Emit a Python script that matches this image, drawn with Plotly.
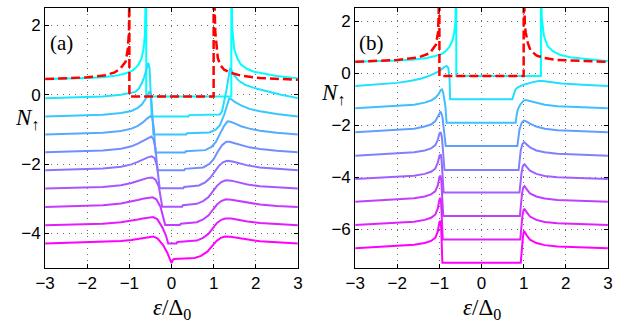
import plotly.graph_objects as go

# ---------------- panel (a) data ----------------
a_offsets = [0.45, -0.10, -0.63, -1.15, -1.66, -2.18, -2.71, -3.24, -3.77, -4.29]

a_x = [
    [-3, -2.5, -2, -1.63, -1.3, -1.1, -0.95, -0.86, -0.78, -0.71, -0.66, -0.63, -0.61, -0.6, -0.6,
     1.42, 1.42, 1.44, 1.49, 1.57, 1.65, 1.8, 1.96, 2.2, 2.5, 3],
    [-3, -2.3, -1.63, -1.2, -0.95, -0.86, -0.78, -0.71, -0.65, -0.59, -0.55, -0.52, -0.49, -0.47,
     0.4, 0.42, 1.15, 1.2, 1.3, 1.37, 1.39, 1.43, 1.5, 1.6, 1.75, 2.03, 2.3, 2.6, 3],
    [-3, -2.3, -1.63, -1.2, -0.95, -0.8, -0.7, -0.62, -0.56, -0.52, -0.49, -0.46, -0.43,
     0.35, 0.37, 0.9, 1.05, 1.15, 1.25, 1.32, 1.37, 1.42, 1.5, 1.65, 1.85, 2.1, 2.5, 3],
    [-3, -2.3, -1.63, -1.2, -0.95, -0.8, -0.68, -0.58, -0.5, -0.46, -0.42, -0.38,
     0.32, 0.34, 0.8, 0.95, 1.05, 1.15, 1.25, 1.33, 1.4, 1.5, 1.65, 1.85, 2.1, 2.5, 3],
    [-3, -2.3, -1.63, -1.2, -0.95, -0.8, -0.68, -0.57, -0.48, -0.43, -0.38, -0.33,
     0.3, 0.32, 0.75, 0.9, 1.0, 1.1, 1.2, 1.3, 1.38, 1.5, 1.65, 1.85, 2.1, 2.5, 3],
    [-3, -2.3, -1.63, -1.2, -0.95, -0.8, -0.68, -0.56, -0.47, -0.4, -0.34, -0.28,
     0.28, 0.3, 0.65, 0.8, 0.92, 1.02, 1.12, 1.22, 1.32, 1.45, 1.6, 1.8, 2.1, 2.5, 3],
    [-3, -2.3, -1.63, -1.2, -0.95, -0.8, -0.68, -0.56, -0.46, -0.38, -0.3, -0.22,
     0.25, 0.27, 0.6, 0.75, 0.88, 0.98, 1.08, 1.18, 1.29, 1.42, 1.6, 1.8, 2.1, 2.5, 3],
    [-3, -2.3, -1.63, -1.2, -0.95, -0.8, -0.68, -0.56, -0.45, -0.36, -0.26, -0.15,
     0.2, 0.22, 0.6, 0.75, 0.88, 0.98, 1.08, 1.18, 1.29, 1.42, 1.6, 1.8, 2.1, 2.5, 3],
    [-3, -2.3, -1.63, -1.2, -0.95, -0.8, -0.68, -0.56, -0.44, -0.34, -0.22, -0.13, -0.08,
     0.12, 0.14, 0.6, 0.75, 0.88, 0.98, 1.08, 1.18, 1.28, 1.42, 1.6, 1.8, 2.1, 2.5, 3],
    [-3, -2.3, -1.63, -1.2, -0.95, -0.8, -0.68, -0.55, -0.43, -0.33, -0.2, -0.1, -0.03, 0.0,
     0.03, 0.06, 0.55, 0.7, 0.85, 0.97, 1.07, 1.17, 1.27, 1.4, 1.6, 1.8, 2.1, 2.5, 3],
]

a_rel = [
    [0, 0.01, 0.03, 0.05, 0.1, 0.16, 0.23, 0.31, 0.42, 0.6, 0.9, 1.32, 2.0, 3.5, -0.5,
     -0.5, 3.5, 1.5, 0.85, 0.58, 0.42, 0.29, 0.21, 0.15, 0.09, 0.02],
    [0, 0.02, 0.05, 0.1, 0.15, 0.18, 0.27, 0.42, 0.6, 0.85, 1.02, 0.85, 0.09, -0.53,
     -0.53, -0.49, -0.47, -0.38, 0.2, 0.8, 0.87, 0.78, 0.64, 0.5, 0.38, 0.27, 0.18, 0.1, 0.0],
    [0, 0.02, 0.05, 0.1, 0.16, 0.25, 0.35, 0.5, 0.65, 0.72, 0.65, 0.2, -0.52,
     -0.52, -0.48, -0.46, -0.38, -0.25, 0.05, 0.35, 0.52, 0.5, 0.42, 0.32, 0.22, 0.15, 0.07, 0.0],
    [0, 0.02, 0.05, 0.1, 0.17, 0.25, 0.35, 0.46, 0.53, 0.5, 0.2, -0.52,
     -0.52, -0.48, -0.45, -0.36, -0.22, 0.02, 0.25, 0.38, 0.37, 0.32, 0.24, 0.17, 0.11, 0.05, 0.0],
    [0, 0.02, 0.05, 0.1, 0.17, 0.25, 0.33, 0.41, 0.45, 0.38, 0.1, -0.52,
     -0.52, -0.48, -0.44, -0.34, -0.2, 0.02, 0.2, 0.3, 0.3, 0.26, 0.2, 0.14, 0.09, 0.04, 0.0],
    [0, 0.02, 0.05, 0.1, 0.17, 0.24, 0.31, 0.37, 0.4, 0.35, 0.1, -0.52,
     -0.52, -0.48, -0.44, -0.35, -0.22, -0.05, 0.12, 0.23, 0.27, 0.25, 0.2, 0.14, 0.08, 0.04, 0.0],
    [0, 0.02, 0.05, 0.1, 0.16, 0.22, 0.27, 0.31, 0.32, 0.26, 0.05, -0.52,
     -0.52, -0.48, -0.44, -0.36, -0.24, -0.08, 0.08, 0.19, 0.24, 0.23, 0.18, 0.12, 0.07, 0.03, 0.0],
    [0, 0.02, 0.05, 0.1, 0.15, 0.2, 0.24, 0.27, 0.28, 0.22, 0.0, -0.52,
     -0.52, -0.48, -0.44, -0.36, -0.24, -0.08, 0.07, 0.17, 0.22, 0.21, 0.17, 0.12, 0.07, 0.03, 0.0],
    [0, 0.02, 0.05, 0.09, 0.13, 0.17, 0.2, 0.23, 0.24, 0.18, -0.05, -0.3, -0.52,
     -0.52, -0.48, -0.44, -0.36, -0.24, -0.08, 0.07, 0.16, 0.2, 0.2, 0.16, 0.11, 0.07, 0.03, 0.0],
    [0, 0.02, 0.04, 0.07, 0.1, 0.13, 0.16, 0.19, 0.2, 0.14, -0.05, -0.27, -0.45, -0.57,
     -0.48, -0.45, -0.42, -0.36, -0.24, -0.08, 0.07, 0.16, 0.2, 0.19, 0.15, 0.1, 0.06, 0.03, 0.0],
]

a_red_x = [-3, -2.5, -2, -1.6, -1.35, -1.21, -1.09, -1.04, -1.01, -1.0, -1.0, 1.0, 1.0, 1.04, 1.07,
           1.1, 1.16, 1.25, 1.4, 1.65, 2.1, 2.5, 3]
a_red_y = [0.45, 0.47, 0.5, 0.55, 0.64, 0.76, 0.95, 1.3, 1.8, 3.5, -0.05, -0.05, 3.5, 1.8, 1.35,
           1.05, 0.85, 0.72, 0.63, 0.55, 0.48, 0.45, 0.43]

# ---------------- panel (b) data ----------------
b_offsets = [0.43, -0.50, -1.36, -2.28, -3.18, -4.08, -4.95, -5.85, -6.74]

b_x = [
    [-3, -2.5, -2, -1.6, -1.3, -1.1, -0.95, -0.86, -0.77, -0.7, -0.65, -0.62, -0.605, -0.6, -0.6,
     1.41, 1.41, 1.43, 1.48, 1.57, 1.7, 1.88, 2.1, 2.5, 3],
    [-3, -2.5, -2, -1.67, -1.4, -1.2, -1.05, -0.95, -0.88, -0.83, -0.79, -0.76, -0.745,
     0.73, 0.76, 0.8, 0.85, 1.0, 1.2, 1.35, 1.45, 1.6, 1.9, 2.4, 3],
    [-3, -2.5, -2, -1.6, -1.35, -1.2, -1.1, -1.02, -0.97, -0.94, -0.91, -0.86, -0.83,
     0.81, 0.83, 0.86, 0.92, 1.0, 1.05, 1.15, 1.3, 1.5, 1.8, 2.3, 3],
    [-3, -2.5, -2, -1.6, -1.35, -1.2, -1.1, -1.04, -1.0, -0.97, -0.93, -0.89, -0.85,
     0.85, 0.87, 0.9, 0.95, 1.0, 1.05, 1.15, 1.3, 1.5, 1.8, 2.3, 3],
    [-3, -2.5, -2, -1.6, -1.35, -1.2, -1.1, -1.04, -1.0, -0.97, -0.94, -0.91, -0.88,
     0.88, 0.9, 0.93, 0.97, 1.01, 1.06, 1.15, 1.3, 1.5, 1.8, 2.3, 3],
    [-3, -2.5, -2, -1.6, -1.35, -1.2, -1.1, -1.04, -1.0, -0.97, -0.95, -0.92, -0.9,
     0.9, 0.92, 0.95, 0.98, 1.02, 1.07, 1.15, 1.3, 1.5, 1.8, 2.3, 3],
    [-3, -2.5, -2, -1.6, -1.35, -1.2, -1.1, -1.04, -1.0, -0.975, -0.955, -0.93, -0.91,
     0.91, 0.93, 0.96, 0.99, 1.02, 1.07, 1.15, 1.3, 1.5, 1.8, 2.3, 3],
    [-3, -2.5, -2, -1.6, -1.35, -1.2, -1.1, -1.04, -1.0, -0.975, -0.96, -0.94, -0.92,
     0.92, 0.94, 0.97, 1.0, 1.02, 1.07, 1.15, 1.3, 1.5, 1.8, 2.3, 3],
    [-3, -2.5, -2, -1.6, -1.35, -1.2, -1.1, -1.04, -1.0, -0.975, -0.96, -0.945, -0.93,
     0.93, 0.95, 0.98, 1.0, 1.02, 1.07, 1.15, 1.3, 1.5, 1.8, 2.3, 3],
]

b_rel = [
    [0, 0.02, 0.05, 0.09, 0.15, 0.22, 0.3, 0.4, 0.55, 0.78, 1.1, 1.5, 2.2, 3.5, -0.55,
     -0.55, 3.5, 1.7, 1.0, 0.6, 0.4, 0.26, 0.18, 0.1, 0.02],
    [0, 0.05, 0.12, 0.2, 0.3, 0.42, 0.53, 0.64, 0.74, 0.77, 0.7, 0.3, -0.51,
     -0.51, -0.35, -0.15, -0.06, 0.05, 0.14, 0.19, 0.19, 0.16, 0.1, 0.05, 0.0],
    [0, 0.04, 0.08, 0.14, 0.22, 0.3, 0.4, 0.55, 0.7, 0.73, 0.6, 0.1, -0.55,
     -0.55, -0.3, -0.05, 0.15, 0.3, 0.32, 0.28, 0.2, 0.14, 0.08, 0.04, 0.0],
    [0, 0.04, 0.08, 0.14, 0.22, 0.3, 0.42, 0.6, 0.76, 0.8, 0.6, 0.1, -0.53,
     -0.53, -0.25, 0.1, 0.35, 0.45, 0.43, 0.33, 0.22, 0.14, 0.08, 0.04, 0.0],
    [0, 0.04, 0.08, 0.13, 0.2, 0.28, 0.4, 0.6, 0.85, 0.9, 0.7, 0.1, -0.55,
     -0.55, -0.2, 0.2, 0.45, 0.52, 0.45, 0.32, 0.2, 0.13, 0.07, 0.03, 0.0],
    [0, 0.04, 0.08, 0.13, 0.2, 0.28, 0.4, 0.62, 0.9, 0.95, 0.75, 0.1, -0.52,
     -0.52, -0.15, 0.25, 0.5, 0.57, 0.47, 0.32, 0.2, 0.12, 0.07, 0.03, 0.0],
    [0, 0.04, 0.08, 0.13, 0.2, 0.28, 0.4, 0.62, 0.95, 1.0, 0.8, 0.1, -0.55,
     -0.55, -0.1, 0.3, 0.55, 0.6, 0.48, 0.32, 0.2, 0.12, 0.07, 0.03, 0.0],
    [0, 0.04, 0.08, 0.13, 0.2, 0.28, 0.4, 0.63, 0.98, 1.05, 0.85, 0.1, -0.55,
     -0.55, -0.1, 0.35, 0.6, 0.62, 0.5, 0.33, 0.2, 0.12, 0.07, 0.03, 0.0],
    [0, 0.04, 0.08, 0.13, 0.2, 0.28, 0.4, 0.64, 1.0, 1.05, 0.85, 0.1, -0.56,
     -0.56, -0.1, 0.4, 0.62, 0.64, 0.5, 0.33, 0.2, 0.12, 0.07, 0.03, 0.0],
]

b_red_x = [-3, -2, -1.5, -1.23, -1.08, -1.03, -1.0, -1.0, 1.0, 1.0, 1.03, 1.05, 1.1, 1.16,
           1.3, 1.47, 1.8, 2.3, 3]
b_red_y = [0.43, 0.5, 0.6, 0.76, 1.1, 1.6, 3.5, -0.12, -0.12, 3.5, 1.8, 1.55, 1.15, 0.88,
           0.68, 0.58, 0.5, 0.46, 0.43]

x_ticks = [-3, -2, -1, 0, 1, 2, 3]
a_y_ticks = [-4, -2, 0, 2]
b_y_ticks = [-6, -4, -2, 0, 2]


def cool(t):
    return "rgb(%d,%d,255)" % (round(255 * t), round(255 * (1 - t)))


fig = go.Figure()

for panel, (offs, xs, rels, rx, ry, xa, ya) in enumerate([
        (a_offsets, a_x, a_rel, a_red_x, a_red_y, "x", "y"),
        (b_offsets, b_x, b_rel, b_red_x, b_red_y, "x2", "y2")]):
    n = len(offs)
    for k in range(n):
        fig.add_trace(go.Scatter(
            x=xs[k], y=[offs[k] + r for r in rels[k]], mode="lines",
            line=dict(color=cool(k / (n - 1)), width=2),
            xaxis=xa, yaxis=ya, showlegend=False, hoverinfo="skip"))
    fig.add_trace(go.Scatter(
        x=rx, y=ry, mode="lines",
        line=dict(color="rgb(255,0,0)", width=2.5, dash="9px,4px"),
        xaxis=xa, yaxis=ya, showlegend=False, hoverinfo="skip"))

W, H = 622, 329
tickfont = dict(family="Liberation Sans, Arial, sans-serif", size=17, color="black")
axis_common = dict(showline=True, linecolor="black", linewidth=1, mirror="allticks",
                   ticks="inside", ticklen=4, tickcolor="black", tickfont=tickfont,
                   showgrid=True, gridcolor="rgb(110,110,110)", griddash="1px,5px", gridwidth=1,
                   zeroline=False)

fig.update_layout(
    width=W, height=H, margin=dict(l=0, r=0, t=0, b=0),
    paper_bgcolor="white", plot_bgcolor="white",
    xaxis=dict(domain=[36 / W, 295 / W], range=[-3, 3], tickvals=x_ticks, anchor="y", **axis_common),
    yaxis=dict(domain=[1 - 268 / H, 1 - 8 / H], range=[-5, 2.5], tickvals=a_y_ticks, anchor="x", **axis_common),
    xaxis2=dict(domain=[353.7 / W, 612.7 / W], range=[-3, 3], tickvals=x_ticks, anchor="y2", **axis_common),
    yaxis2=dict(domain=[1 - 268 / H, 1 - 8 / H], range=[-7.5, 2.5], tickvals=b_y_ticks, anchor="x2", **axis_common),
)

serif = "Liberation Serif, DejaVu Serif, serif"
ann = []
for cx in [165.5, 483.2]:
    ann.append(dict(x=cx / W, y=1 - 309 / H, xref="paper", yref="paper", showarrow=False,
                    text="<i>ε</i>/Δ<sub>0</sub>", font=dict(family=serif, size=23, color="black"),
                    xanchor="center", yanchor="middle"))
for px, py in [(17, 119), (331, 94)]:
    ann.append(dict(x=px / W, y=1 - py / H, xref="paper", yref="paper", showarrow=False,
                    text="<i>N</i><sub>↑</sub>", font=dict(family=serif, size=23, color="black"),
                    xanchor="center", yanchor="middle"))
for px, py, lab in [(53, 43, "(a)"), (370, 43, "(b)")]:
    ann.append(dict(x=px / W, y=1 - py / H, xref="paper", yref="paper", showarrow=False,
                    text=lab, font=dict(family=serif, size=21, color="black"),
                    xanchor="center", yanchor="middle"))
fig.update_layout(annotations=ann)

fig.write_html("out.html")
